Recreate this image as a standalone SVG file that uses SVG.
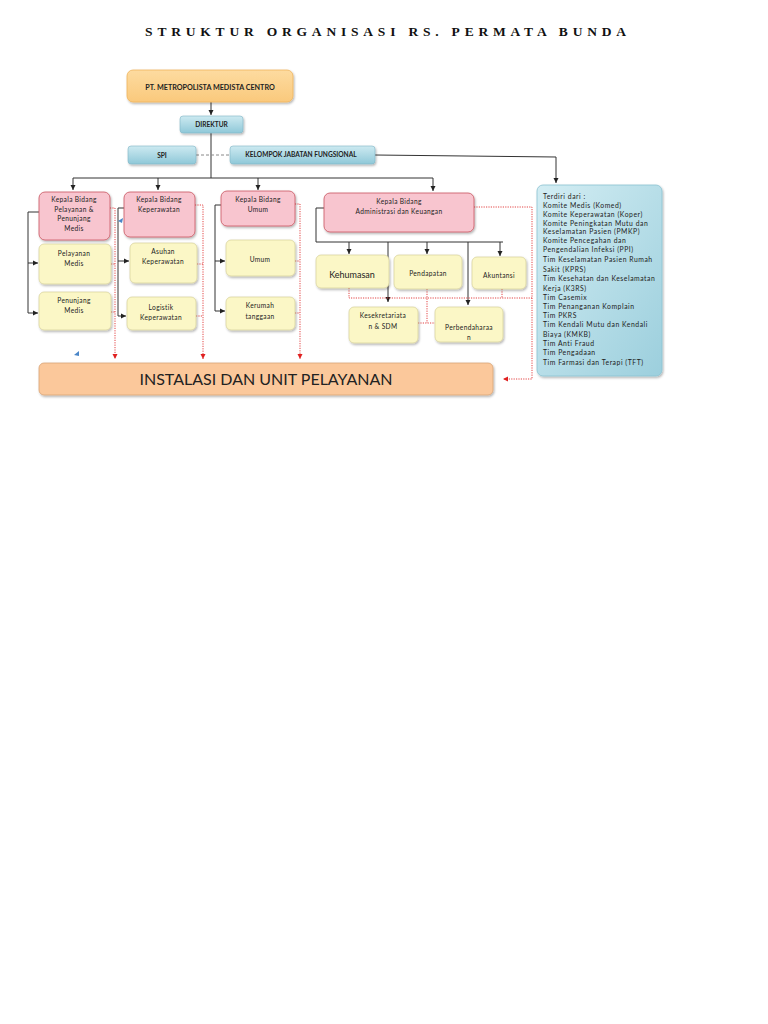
<svg xmlns="http://www.w3.org/2000/svg" width="768" height="1024" viewBox="0 0 768 1024">
<defs>
<linearGradient id="gBlue" x1="0" y1="0" x2="0" y2="1"><stop offset="0" stop-color="#cdeaf1"/><stop offset="1" stop-color="#8fc8d8"/></linearGradient>
<linearGradient id="gBig" x1="0" y1="0" x2="1" y2="1"><stop offset="0" stop-color="#d3edf3"/><stop offset="1" stop-color="#9ccfdd"/></linearGradient>
<linearGradient id="gOr" x1="0" y1="0" x2="0" y2="1"><stop offset="0" stop-color="#fddba0"/><stop offset="1" stop-color="#fac97c"/></linearGradient>
<filter id="sh" x="-10%" y="-10%" width="130%" height="140%"><feDropShadow dx="1" dy="1.5" stdDeviation="1" flood-color="#000" flood-opacity="0.3"/></filter>
<marker id="ab" markerWidth="6" markerHeight="6" refX="5" refY="3" orient="auto" markerUnits="userSpaceOnUse"><path d="M0,0.5 L5,3 L0,5.5 Z" fill="#222"/></marker>
<marker id="ar" markerWidth="6" markerHeight="6" refX="5" refY="3" orient="auto" markerUnits="userSpaceOnUse"><path d="M0,0.5 L5,3 L0,5.5 Z" fill="#e02020"/></marker>
</defs>
<style>
.t{font-family:Lato,"Open Sans","Liberation Sans",sans-serif;fill:#222;text-anchor:middle}
.s{font-size:6.6px;letter-spacing:0.35px}
.b{font-size:6.6px;font-weight:bold}
.blue{fill:url(#gBlue);stroke:#7fb6c6;stroke-width:0.6;filter:url(#sh)}
.pink{fill:#f8c5cf;stroke:#c9545f;stroke-width:0.8;filter:url(#sh)}
.yel{fill:#fbf7c6;stroke:#d5d09a;stroke-width:0.7;filter:url(#sh)}
.blk{fill:none;stroke:#333;stroke-width:1}
.red{fill:none;stroke:#e03030;stroke-width:0.9;stroke-dasharray:1.2 1.2}
.gr{fill:none;stroke:#888;stroke-width:1;stroke-dasharray:3 2}
.li{font-family:Lato,"Open Sans","Liberation Sans",sans-serif;fill:#222;font-size:6.8px;letter-spacing:0.55px}
</style>
<rect width="768" height="1024" fill="#fff"/>
<text x="388" y="36" font-family="'Liberation Serif',serif" font-size="13.5" font-weight="bold" letter-spacing="4.8" text-anchor="middle" fill="#111">STRUKTUR ORGANISASI RS. PERMATA BUNDA</text>

<g id="connectors">
<path class="blk" d="M211,102 V115" marker-end="url(#ab)"/>
<path class="blk" d="M211,133 V178"/>
<path class="gr" d="M196,155 H230"/>
<path class="blk" d="M375,155 L556,157 V183" marker-end="url(#ab)"/>
<path class="blk" d="M73,178 H433"/>
<path class="blk" d="M73,178 V190" marker-end="url(#ab)"/>
<path class="blk" d="M158,178 V190" marker-end="url(#ab)"/>
<path class="blk" d="M258,178 V190" marker-end="url(#ab)"/>
<path class="blk" d="M433,178 V191" marker-end="url(#ab)"/>
<path class="blk" d="M39,212 H28 V313"/>
<path class="blk" d="M28,263 H38" marker-end="url(#ab)"/>
<path class="blk" d="M28,313 H38" marker-end="url(#ab)"/>
<path class="blk" d="M124,208 H118 V316"/>
<path class="blk" d="M118,261 H129" marker-end="url(#ab)"/>
<path class="blk" d="M118,316 H126" marker-end="url(#ab)"/>
<path class="blk" d="M221,205 H215 V311" stroke="#666"/>
<path class="blk" d="M215,261 H225" marker-end="url(#ab)"/>
<path class="blk" d="M215,311 H225" marker-end="url(#ab)"/>
<path class="blk" d="M324,208 H316 V242 H503"/>
<path class="blk" d="M349,242 V254" marker-end="url(#ab)"/>
<path class="blk" d="M427,242 V254" marker-end="url(#ab)"/>
<path class="blk" d="M500,242 V256" marker-end="url(#ab)"/>
<path class="blk" d="M388,242 V302" marker-end="url(#ab)"/>
<path class="blk" d="M468,242 V305" marker-end="url(#ab)"/>
<path class="red" d="M110,208 H115 V359" marker-end="url(#ar)"/>
<path class="red" d="M111,264 H115 M111,312 H115"/>
<path class="red" d="M195,205 H203 V359" marker-end="url(#ar)"/>
<path class="red" d="M197,264 H203 M196,316 H203"/>
<path class="red" d="M295,204 H300 V359" marker-end="url(#ar)"/>
<path class="red" d="M295,261 H300 M295,313 H300"/>
<path class="red" d="M474,207 H532 V379 H503" marker-end="url(#ar)"/>
<path class="red" d="M349,288 V298 H532 M502,289 V298"/>
<path class="red" d="M427,289 V323 M418,323 H435"/>
<path d="M74,355 L79,351 L79,356 Z" fill="#4a86c8"/>
<path d="M118,221 L123,218 L122,223 Z" fill="#4a86c8"/>
</g>

<g id="pt"><rect x="127" y="70" width="166" height="32" rx="6" fill="url(#gOr)" stroke="#f0b45a" stroke-width="0.8" filter="url(#sh)"/>
<text class="t" font-size="7.2" font-weight="bold" x="210" y="89.5">PT. METROPOLISTA MEDISTA CENTRO</text></g>
<g id="direktur"><rect class="blue" x="180" y="116" width="63" height="17" rx="3"/><text class="t b" x="211.5" y="127">DIREKTUR</text></g>
<g id="spi"><rect class="blue" x="128" y="146" width="68" height="18" rx="3"/><text class="t b" x="162" y="157.5">SPI</text></g>
<g id="kjf"><rect class="blue" x="230" y="146" width="145" height="18" rx="3"/><text class="t b" x="301" y="156.5">KELOMPOK JABATAN FUNGSIONAL</text></g>

<g id="kb-pelayanan"><rect class="pink" x="39" y="192" width="71" height="48" rx="6"/>
<text class="t s" x="74" y="202">Kepala Bidang</text><text class="t s" x="74" y="211.5">Pelayanan &amp;</text><text class="t s" x="74" y="221">Penunjang</text><text class="t s" x="74" y="230.5">Medis</text></g>
<g id="kb-keperawatan"><rect class="pink" x="124" y="192" width="71" height="45" rx="6"/>
<text class="t s" x="159" y="202">Kepala Bidang</text><text class="t s" x="159" y="211.5">Keperawatan</text></g>
<g id="kb-umum"><rect class="pink" x="221" y="191" width="74" height="35" rx="6"/>
<text class="t s" x="258" y="202">Kepala Bidang</text><text class="t s" x="258" y="211.5">Umum</text></g>
<g id="kb-admin"><rect class="pink" x="324" y="193" width="150" height="39" rx="6"/>
<text class="t s" x="399" y="204">Kepala Bidang</text><text class="t s" x="399" y="214">Administrasi dan Keuangan</text></g>

<g id="pelayanan-medis"><rect class="yel" x="39" y="244" width="72" height="40" rx="5"/><text class="t s" x="74" y="256">Pelayanan</text><text class="t s" x="74" y="266">Medis</text></g>
<g id="penunjang-medis"><rect class="yel" x="39" y="292" width="72" height="38" rx="5"/><text class="t s" x="74" y="303">Penunjang</text><text class="t s" x="74" y="313">Medis</text></g>
<g id="asuhan"><rect class="yel" x="130" y="243" width="67" height="40" rx="5"/><text class="t s" x="163" y="254">Asuhan</text><text class="t s" x="163" y="264">Keperawatan</text></g>
<g id="logistik"><rect class="yel" x="127" y="297" width="69" height="33" rx="5"/><text class="t s" x="161" y="310">Logistik</text><text class="t s" x="161" y="320">Keperawatan</text></g>
<g id="umum"><rect class="yel" x="226" y="240" width="69" height="36" rx="5"/><text class="t s" x="260" y="262">Umum</text></g>
<g id="kerumahtanggaan"><rect class="yel" x="226" y="297" width="69" height="33" rx="5"/><text class="t s" x="260" y="308">Kerumah</text><text class="t s" x="260" y="319">tanggaan</text></g>
<g id="kehumasan"><rect class="yel" x="316" y="255" width="73" height="33" rx="5"/><text class="t" font-size="9" x="352" y="278">Kehumasan</text></g>
<g id="pendapatan"><rect class="yel" x="394" y="255" width="68" height="34" rx="5"/><text class="t s" x="428" y="276">Pendapatan</text></g>
<g id="akuntansi"><rect class="yel" x="472" y="257" width="54" height="32" rx="5"/><text class="t s" x="499" y="278">Akuntansi</text></g>
<g id="kesekretariatan"><rect class="yel" x="349" y="307" width="69" height="36" rx="5"/><text class="t s" x="383" y="318">Kesekretariata</text><text class="t s" x="383" y="329">n &amp; SDM</text></g>
<g id="perbendaharaan"><rect class="yel" x="435" y="307" width="68" height="35" rx="5"/><text class="t s" x="469" y="330">Perbendaharaa</text><text class="t s" x="469" y="340">n</text></g>

<g id="instalasi"><rect x="39" y="363" width="454" height="32" rx="5" fill="#fbc89b" stroke="#d9a576" stroke-width="0.8" filter="url(#sh)"/>
<text class="t" font-size="16" x="266" y="385">INSTALASI DAN UNIT PELAYANAN</text></g>

<g id="terdiri"><rect x="537" y="185" width="125" height="191" rx="6" fill="url(#gBig)" stroke="#8cc3d2" stroke-width="0.8" filter="url(#sh)"/>
<text class="li" x="543" y="199">Terdiri dari :</text>
<text class="li" x="543" y="207.5">Komite Medis (Komed)</text>
<text class="li" x="543" y="216.5">Komite Keperawatan (Koper)</text>
<text class="li" x="543" y="225.5">Komite Peningkatan Mutu dan</text>
<text class="li" x="543" y="234">Keselamatan Pasien (PMKP)</text>
<text class="li" x="543" y="243">Komite Pencegahan dan</text>
<text class="li" x="543" y="252">Pengendalian Infeksi (PPI)</text>
<text class="li" x="543" y="261.5">Tim Keselamatan Pasien Rumah</text>
<text class="li" x="543" y="271.5">Sakit (KPRS)</text>
<text class="li" x="543" y="281">Tim Kesehatan dan Keselamatan</text>
<text class="li" x="543" y="290.5">Kerja (K3RS)</text>
<text class="li" x="543" y="299.5">Tim Casemix</text>
<text class="li" x="543" y="308.5">Tim Penanganan Komplain</text>
<text class="li" x="543" y="317.5">Tim PKRS</text>
<text class="li" x="543" y="327">Tim Kendali Mutu dan Kendali</text>
<text class="li" x="543" y="336.5">Biaya (KMKB)</text>
<text class="li" x="543" y="346">Tim Anti Fraud</text>
<text class="li" x="543" y="355">Tim Pengadaan</text>
<text class="li" x="543" y="364.5">Tim Farmasi dan Terapi (TFT)</text></g>
</svg>
